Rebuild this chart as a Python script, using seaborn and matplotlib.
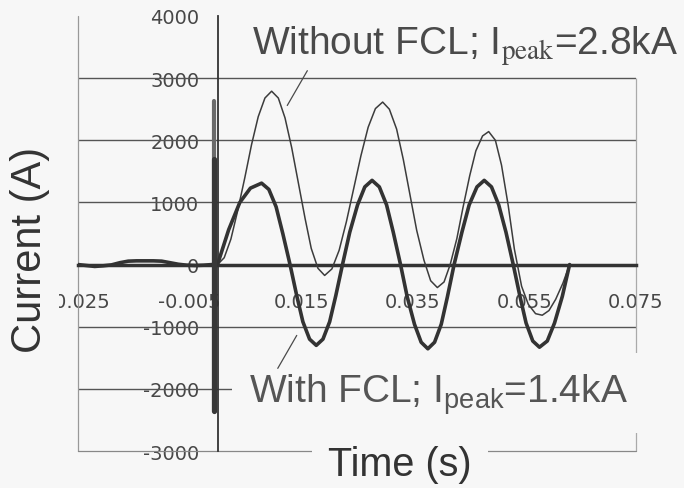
"""
Fault current with and without FCL - recreation of a scanned oscillogram plot.
"""
import matplotlib
matplotlib.use('Agg')
import matplotlib.pyplot as plt
import seaborn as sns
import pandas as pd

# With FCL (thick trace), includes the pre-fault part
t_fcl = [-0.0250, -0.0235, -0.0220, -0.0205, -0.0190, -0.0175, -0.0160, -0.0145,
         -0.0130, -0.0115, -0.0100, -0.0085, -0.0070, -0.0055, -0.0040, -0.0025,
         -0.0010, 0.0000, 0.0020, 0.0040, 0.0059, 0.0079, 0.0092, 0.0105, 0.0117,
         0.0130, 0.0142, 0.0153, 0.0165, 0.0177, 0.0189, 0.0201, 0.0212, 0.0224,
         0.0237, 0.0251, 0.0264, 0.0277, 0.0290, 0.0303, 0.0315, 0.0328, 0.0340,
         0.0353, 0.0365, 0.0377, 0.0389, 0.0401, 0.0412, 0.0424, 0.0438, 0.0451,
         0.0465, 0.0478, 0.0491, 0.0504, 0.0517, 0.0530, 0.0542, 0.0553, 0.0565,
         0.0577, 0.0591, 0.0604, 0.0618, 0.0631]
i_fcl = [0, -15, -30, -20, -5, 30, 55, 60,
         60, 60, 55, 30, 5, -10, -15, -10,
         0, 0, 560, 1000, 1230, 1310, 1210, 930, 500,
         0, -500, -920, -1200, -1300, -1200, -920, -500, 0,
         520, 960, 1250, 1355, 1250, 960, 520, 0, -520,
         -960, -1250, -1355, -1250, -960, -520, 0, 520, 960,
         1250, 1355, 1250, 960, 520, 0, -510, -940, -1230,
         -1330, -1230, -940, -510, 0]

# Without FCL (thin trace)
t_nofcl = [0.0000, 0.0012, 0.0024, 0.0036, 0.0049, 0.0061, 0.0073, 0.0085, 0.0097,
           0.0109, 0.0121, 0.0133, 0.0145, 0.0157, 0.0168, 0.0180, 0.0192,
           0.0205, 0.0218, 0.0231, 0.0244, 0.0257, 0.0270, 0.0283, 0.0296,
           0.0308, 0.0321, 0.0333, 0.0345, 0.0357, 0.0370, 0.0382, 0.0394,
           0.0406, 0.0417, 0.0429, 0.0440, 0.0452, 0.0463, 0.0475, 0.0486,
           0.0498, 0.0509, 0.0521, 0.0532, 0.0545, 0.0557, 0.0570, 0.0582,
           0.0594, 0.0606, 0.0619, 0.0631]
i_nofcl = [0, 110, 410, 860, 1400, 1930, 2380, 2680, 2790,
           2680, 2360, 1880, 1310, 740, 260, -60, -175,
           -70, 230, 690, 1220, 1750, 2210, 2510, 2615,
           2500, 2180, 1690, 1120, 550, 70, -260, -370,
           -280, 0, 420, 920, 1430, 1830, 2070, 2140,
           2000, 1600, 950, 250, -350, -640, -790, -815,
           -740, -560, -300, 0]

# switching spike just before t = 0 (light upper part, dark lower part)
spike_t = [-0.0007, -0.0007]
spike_i_upper = [2640, 1700]
spike_i_lower = [1700, -2360]

x_ticks = [-0.025, -0.005, 0.015, 0.035, 0.055, 0.075]
x_tick_labels = ['-0.025', '-0.005', '0.015', '0.035', '0.055', '0.075']
y_ticks = [-3000, -2000, -1000, 0, 1000, 2000, 3000, 4000]
y_tick_labels = ['-3000', '-2000', '-1000', '0', '1000', '2000', '3000', '4000']
grid_levels = [-2000, -1000, 1000, 2000, 3000]

label_top = 'Without FCL; I$_{\\mathrm{peak}}$=2.8kA'
label_bottom = 'With FCL; I$_{\\mathrm{peak}}$=1.4kA'

bg = '#f7f7f7'
ink = '#333333'

sns.set_style('white')
plt.rcParams['font.family'] = ['Liberation Sans', 'DejaVu Sans']
plt.rcParams['mathtext.rm'] = 'Liberation Sans'

fig = plt.figure(figsize=(6.84, 4.89), dpi=100, facecolor=bg)
ax = fig.add_axes([78 / 684, 1 - 452 / 489, 558 / 684, 435 / 489])
ax.set_facecolor(bg)

df_fcl = pd.DataFrame({'t': t_fcl, 'i': i_fcl})
df_nofcl = pd.DataFrame({'t': t_nofcl, 'i': i_nofcl})
df_spike_up = pd.DataFrame({'t': spike_t, 'i': spike_i_upper})
df_spike_lo = pd.DataFrame({'t': spike_t, 'i': spike_i_lower})

sns.lineplot(data=df_nofcl, x='t', y='i', sort=False, estimator=None,
             color='#3c3c3c', linewidth=1.1, ax=ax, zorder=4)
sns.lineplot(data=df_fcl, x='t', y='i', sort=False, estimator=None,
             color=ink, linewidth=2.6, ax=ax, zorder=5)
sns.lineplot(data=df_spike_up, x='t', y='i', sort=False, estimator=None,
             color='#6a6a6a', linewidth=3.0, ax=ax, zorder=5)
sns.lineplot(data=df_spike_lo, x='t', y='i', sort=False, estimator=None,
             color='#383838', linewidth=3.8, ax=ax, zorder=5)

ax.set_xlim(-0.025, 0.075)
ax.set_ylim(-3000, 4000)

# horizontal grid and the outer frame
ax.hlines(grid_levels, -0.025, 0.075, color='#555555', linewidth=1.0, zorder=1)
ax.axvline(-0.025, color='#999999', linewidth=0.9, clip_on=False, zorder=1)
ax.vlines(0.075, -3000, 3000, color='#aaaaaa', linewidth=0.9, clip_on=False, zorder=1)
ax.axhline(-3000, color='#888888', linewidth=0.9, clip_on=False, zorder=1)

# axes crossing at the origin
for side in ['top', 'right']:
    ax.spines[side].set_visible(False)
ax.spines['left'].set_position(('data', 0))
ax.spines['left'].set_color(ink)
ax.spines['left'].set_linewidth(1.3)
ax.spines['bottom'].set_position(('data', 0))
ax.spines['bottom'].set_color(ink)
ax.spines['bottom'].set_linewidth(2.5)

ax.set_xticks(x_ticks, x_tick_labels, fontfamily='DejaVu Sans', fontsize=14)
ax.set_yticks(y_ticks, y_tick_labels, fontfamily='DejaVu Sans', fontsize=14)
ax.tick_params(axis='x', direction='in', length=4, width=1, pad=20,
               color=ink, labelcolor='#474747')
ax.tick_params(axis='y', direction='in', length=7, width=1, pad=13,
               color=ink, labelcolor='#474747')
ax.set_xlabel('')
ax.set_ylabel('')

# curve labels with leader lines
ax.text(0.0061, 3390, label_top, fontsize=28, color='#4a4a4a',
        ha='left', va='baseline', math_fontfamily='stix')
ax.plot([0.0161, 0.0125], [3120, 2560], color='#4a4a4a', linewidth=0.9, zorder=4)
ax.text(0.0057, -2200, label_bottom, fontsize=28, color='#555555',
        ha='left', va='baseline', math_fontfamily='custom', zorder=3,
        bbox=dict(facecolor=bg, edgecolor='none', boxstyle='square,pad=0.45'))
ax.plot([0.0142, 0.0108], [-1140, -1670], color='#4a4a4a', linewidth=0.9, zorder=4)

fig.text(400 / 684, 1 - 476 / 489, 'Time (s)', fontsize=28.5, color=ink,
         ha='center', va='baseline',
         bbox=dict(facecolor=bg, edgecolor='none', boxstyle='square,pad=0.4'))
fig.text(30 / 684, 1 - 250 / 489, 'Current (A)', fontsize=30, color=ink,
         rotation=90, ha='center', va='center',
         bbox=dict(facecolor=bg, edgecolor='none', boxstyle='square,pad=0.22'))

fig.savefig('out.png', dpi=100, facecolor=fig.get_facecolor())
plt.close(fig)
